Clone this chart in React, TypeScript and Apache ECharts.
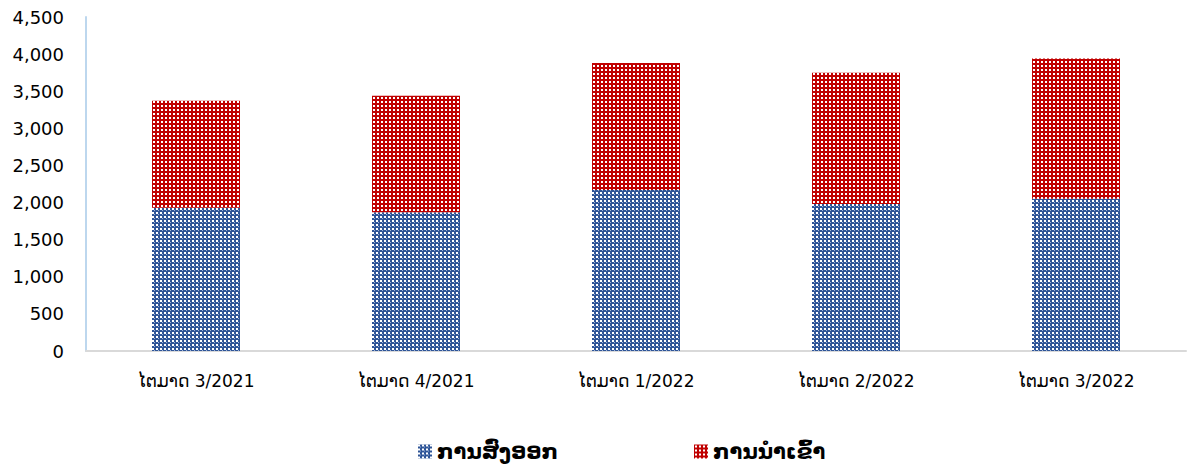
import React, { useEffect, useRef } from "react";
import * as echarts from "echarts";

const categories = ["ໄຕມາດ 3/2021", "ໄຕມາດ 4/2021", "ໄຕມາດ 1/2022", "ໄຕມາດ 2/2022", "ໄຕມາດ 3/2022"];
const exportsData = [1930, 1870, 2170, 1980, 2050];
const importsData = [1440, 1570, 1710, 1770, 1890];
const seriesNames = ["ການສົ່ງອອກ", "ການນຳເຂົ້າ"];
const yTicks = { min: 0, max: 4500, interval: 500 };

function makePattern(kind: "blue" | "red") {
  const c = document.createElement("canvas");
  const ctx = c.getContext("2d")!;
  c.width = 4; c.height = 4;
  if (kind === "red") {
    ctx.fillStyle = "#C00000";
    ctx.fillRect(0, 0, 4, 4);
    ctx.fillStyle = "#FFFFFF";
    ctx.fillRect(1, 1, 2, 2);
  } else {
    ctx.fillStyle = "#2F5597";
    ctx.fillRect(0, 0, 4, 4);
    ctx.fillStyle = "#FFFFFF";
    ctx.fillRect(0, 0, 2, 2);
    ctx.fillStyle = "#9DB3DA";
    ctx.fillRect(2, 2, 1, 1);
  }
  return { image: c, repeat: "repeat" } as any;
}

export default function App() {
  const ref = useRef<HTMLDivElement>(null);
  useEffect(() => {
    if (!ref.current) return;
    const chart = echarts.init(ref.current, undefined, { renderer: "svg" });
    const blue = makePattern("blue");
    const red = makePattern("red");
    const legendText = { fontFamily: "DejaVu Sans", fontSize: 21, fontWeight: "bold", color: "#000" };
    chart.setOption({
      animation: false,
      grid: { left: 86, right: 1, top: 17, bottom: 114 },
      legend: [
        {
          data: [seriesNames[0]],
          left: 413, top: 436,
          itemWidth: 14, itemHeight: 14,
          icon: "rect",
          textStyle: legendText,
        },
        {
          data: [seriesNames[1]],
          left: 689, top: 436,
          itemWidth: 14, itemHeight: 14,
          icon: "rect",
          textStyle: legendText,
        },
      ],
      xAxis: {
        type: "category",
        data: categories,
        axisLine: { lineStyle: { color: "#D9D9D9", width: 2 } },
        axisTick: { show: false },
        axisLabel: { fontFamily: "DejaVu Sans", fontSize: 17, color: "#000", margin: 21 },
      },
      yAxis: {
        type: "value",
        min: yTicks.min, max: yTicks.max, interval: yTicks.interval,
        axisLine: { show: true, lineStyle: { color: "#BDD7EE", width: 2 } },
        axisTick: { show: false },
        splitLine: { show: false },
        axisLabel: {
          fontFamily: "DejaVu Sans", fontSize: 18, color: "#000", margin: 22,
          formatter: (v: number) => v.toLocaleString("en-US"),
        },
      },
      series: [
        {
          name: seriesNames[0], type: "bar", stack: "t", data: exportsData,
          barWidth: "40%", itemStyle: { color: blue },
        },
        {
          name: seriesNames[1], type: "bar", stack: "t", data: importsData,
          barWidth: "40%", itemStyle: { color: red },
        },
      ],
    });
    return () => chart.dispose();
  }, []);
  return <div ref={ref} style={{ width: 1187, height: 465, position: "absolute", left: 0, top: 0 }} />;
}
